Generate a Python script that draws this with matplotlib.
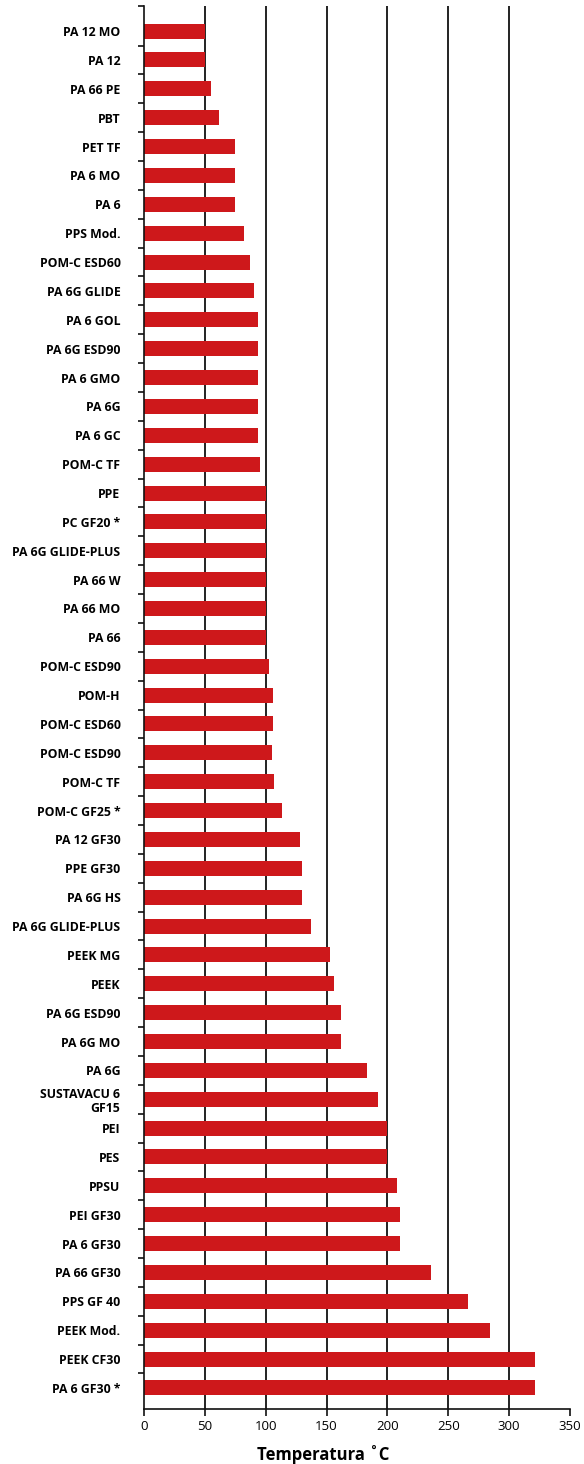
import matplotlib
matplotlib.use("Agg")
import matplotlib.pyplot as plt
import numpy as np

categories = [
    "PA 12 MO", "PA 12", "PA 66 PE", "PBT", "PET TF", "PA 6 MO", "PA 6", "PPS Mod.",
    "POM-C ESD60", "PA 6G GLIDE", "PA 6 GOL", "PA 6G ESD90", "PA 6 GMO", "PA 6G", "PA 6 GC",
    "POM-C TF", "PPE", "PC GF20 *", "PA 6G GLIDE-PLUS", "PA 66 W", "PA 66 MO", "PA 66",
    "POM-C ESD90", "POM-H", "POM-C ESD60", "POM-C ESD90", "POM-C TF", "POM-C GF25 *",
    "PA 12 GF30", "PPE GF30", "PA 6G HS", "PA 6G GLIDE-PLUS", "PEEK MG", "PEEK",
    "PA 6G ESD90", "PA 6G MO", "PA 6G", "SUSTAVACU 6\nGF15", "PEI", "PES", "PPSU",
    "PEI GF30", "PA 6 GF30", "PA 66 GF30", "PPS GF 40", "PEEK Mod.", "PEEK CF30",
    "PA 6 GF30 *",
]
values = [
    50, 50, 55, 62, 75, 75, 75, 82,
    87, 90, 94, 94, 94, 94, 94,
    95, 100, 100, 100, 100, 100, 100,
    103, 106, 106, 105, 107, 113,
    128, 130, 130, 137, 153, 156,
    162, 162, 183, 192, 200, 200, 208,
    210, 210, 236, 266, 284, 321,
    321,
]
xticks = [0, 50, 100, 150, 200, 250, 300, 350]
gridlines = [50, 100, 150, 200, 250, 300]

plt.rcParams['font.family'] = ['Open Sans', 'DejaVu Sans']

fig = plt.figure(figsize=(5.84, 14.64), dpi=100)
ax = fig.add_axes([144/584, 1 - 1409/1464, (570-144)/584, (1409-6)/1464])

n = len(categories)
y = np.arange(n)
y_top = -0.87
y_bot = n - 1 + 0.73
for g in gridlines:
    ax.axvline(g, color='#111111', lw=1.3, zorder=1)
ax.barh(y, values, height=0.52, color='#CE181B', zorder=2)

ax.set_xlim(0, 350)
ax.set_ylim(y_bot, y_top)
ax.set_xticks(xticks)
ax.set_xticklabels([str(t) for t in xticks], fontsize=9.5)
ax.set_yticks(y)
ax.set_yticklabels(categories, fontsize=8.8, fontweight='bold', linespacing=1.15)
ax.set_yticks([y_top] + list(np.arange(0.5, n - 1, 1.0)), minor=True)
ax.tick_params(axis='y', which='major', length=0, pad=17)
ax.tick_params(axis='y', which='minor', length=4, width=1.2, color='#111111')
ax.tick_params(axis='x', length=5, width=1.2, color='#111111', pad=3)

for s in ['top', 'right']:
    ax.spines[s].set_visible(False)
for s in ['left', 'bottom']:
    ax.spines[s].set_linewidth(1.2)
    ax.spines[s].set_color('#111111')

fig.text(323/584, 1 - 1455/1464, "Temperatura ˚C", fontsize=12, fontweight='bold',
         ha='center', va='center')

fig.savefig("out.png", dpi=100)
